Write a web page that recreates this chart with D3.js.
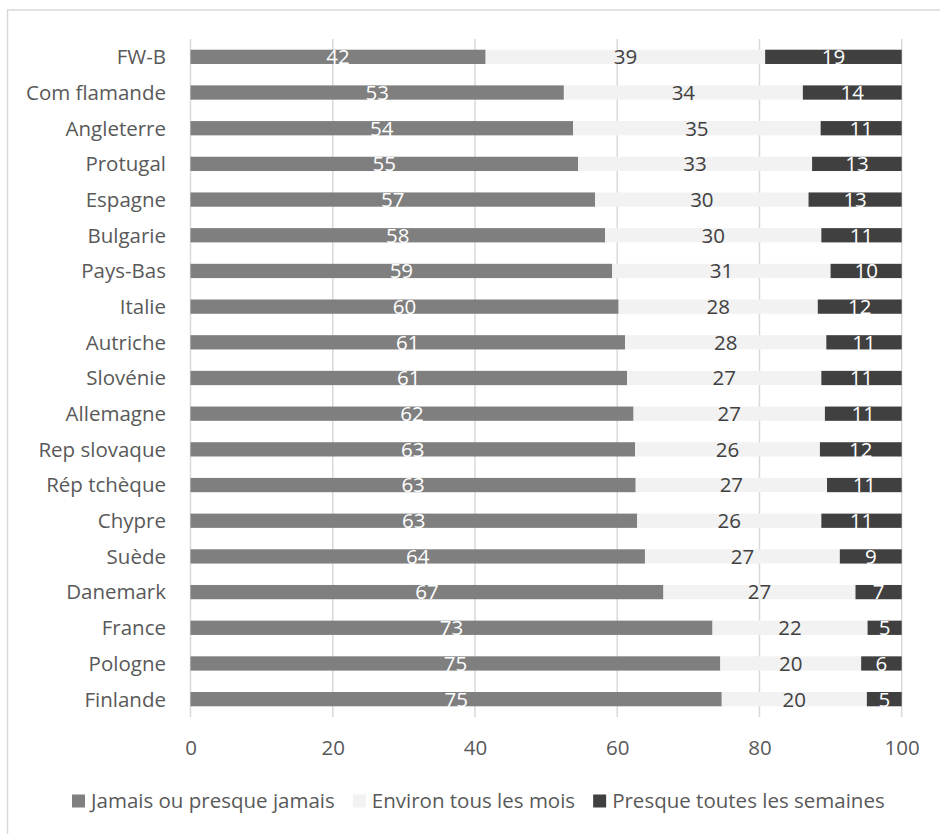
<!DOCTYPE html>
<html><head><meta charset="utf-8">
<script src="https://cdn.jsdelivr.net/npm/d3@7"></script>
<style>html,body{margin:0;padding:0;background:#fff;}svg{display:block;}</style>
</head><body>
<script>
const categories = ["FW-B","Com flamande","Angleterre","Protugal","Espagne","Bulgarie","Pays-Bas","Italie","Autriche","Slovénie","Allemagne","Rep slovaque","Rép tchèque","Chypre","Suède","Danemark","France","Pologne","Finlande"];
const jamais   = [41.5,52.5,53.8,54.5,56.9,58.3,59.3,60.2,61.1,61.4,62.3,62.5,62.6,62.8,63.9,66.5,73.4,74.5,74.7];
const environ  = [39.3,33.6,34.8,32.9,30.0,30.4,30.7,28.0,28.3,27.3,26.9,26.0,26.9,25.9,27.4,27.0,21.8,19.8,20.4];
const presque  = [19.2,13.9,11.4,12.6,13.1,11.3,10.0,11.8,10.6,11.3,10.8,11.5,10.5,11.3,8.7,6.5,4.8,5.7,4.9];
const seriesNames = ["Jamais ou presque jamais","Environ tous les mois","Presque toutes les semaines"];
const tickValues = [0,20,40,60,80,100];

const W = 940, H = 834;
const FONT = "'Open Sans', sans-serif";
const FS = 20.5;
const colors = ["#7f7f7f","#f2f2f2","#404040"];
const labelColors = ["#ffffff","#404040","#ffffff"];

const svg = d3.select("body").append("svg").attr("width",W).attr("height",H);
svg.append("rect").attr("x",7.5).attr("y",10).attr("width",W).attr("height",H)
  .attr("fill","#fff").attr("stroke","#d9d9d9").attr("stroke-width",1.5);

const x = d3.scaleLinear().domain([0,100]).range([190.5,901.7]);
const y = d3.scaleBand().domain(categories).range([39,717]).paddingInner(0.6).paddingOuter(0.3);

// gridlines
svg.append("g").selectAll("line").data(tickValues).join("line")
  .attr("x1",d=>x(d)).attr("x2",d=>x(d)).attr("y1",39).attr("y2",717)
  .attr("stroke","#d9d9d9").attr("stroke-width",1.5);

const stackData = categories.map((c,i)=>({cat:c, s0:jamais[i], s1:environ[i], s2:presque[i]}));
const stack = d3.stack().keys(["s0","s1","s2"])(stackData);

stack.forEach((layer,k)=>{
  const g = svg.append("g");
  g.selectAll("rect").data(layer).join("rect")
    .attr("x",d=>x(d[0])).attr("width",d=>x(d[1])-x(d[0]))
    .attr("y",d=>y(d.data.cat)).attr("height",y.bandwidth())
    .attr("fill",colors[k]);
  g.selectAll("text").data(layer).join("text")
    .attr("x",d=>(x(d[0])+x(d[1]))/2)
    .attr("y",d=>y(d.data.cat)+y.bandwidth()/2)
    .attr("dy","0.36em").attr("text-anchor","middle")
    .attr("font-family",FONT).attr("font-size",FS)
    .attr("fill",labelColors[k])
    .text(d=>Math.round(d[1]-d[0]));
});

// category axis labels
svg.append("g").selectAll("text").data(categories).join("text")
  .attr("x",166).attr("y",d=>y(d)+y.bandwidth()/2).attr("dy","0.36em")
  .attr("text-anchor","end").attr("font-family",FONT).attr("font-size",FS)
  .attr("fill","#595959").text(d=>d);

// x axis
const xAxis = d3.axisBottom(x).tickValues(tickValues).tickSize(0).tickPadding(0);
const ax = svg.append("g").attr("transform","translate(0,748)").call(xAxis);
ax.select(".domain").remove();
ax.selectAll("text").attr("font-family",FONT).attr("font-size",FS).attr("fill","#595959").attr("dy","0.36em").attr("y",0);

// legend
const legend = svg.append("g").attr("transform","translate(0,801)");
let lx = 72;
seriesNames.forEach((n,k)=>{
  legend.append("rect").attr("x",lx).attr("y",-6.5).attr("width",13).attr("height",13).attr("fill",colors[k]);
  const t = legend.append("text").attr("x",lx+19).attr("y",0).attr("dy","0.36em")
    .attr("font-family",FONT).attr("font-size",FS).attr("fill","#595959").text(n);
  lx += 19 + t.node().getComputedTextLength() + 18;
});
</script>
</body></html>
